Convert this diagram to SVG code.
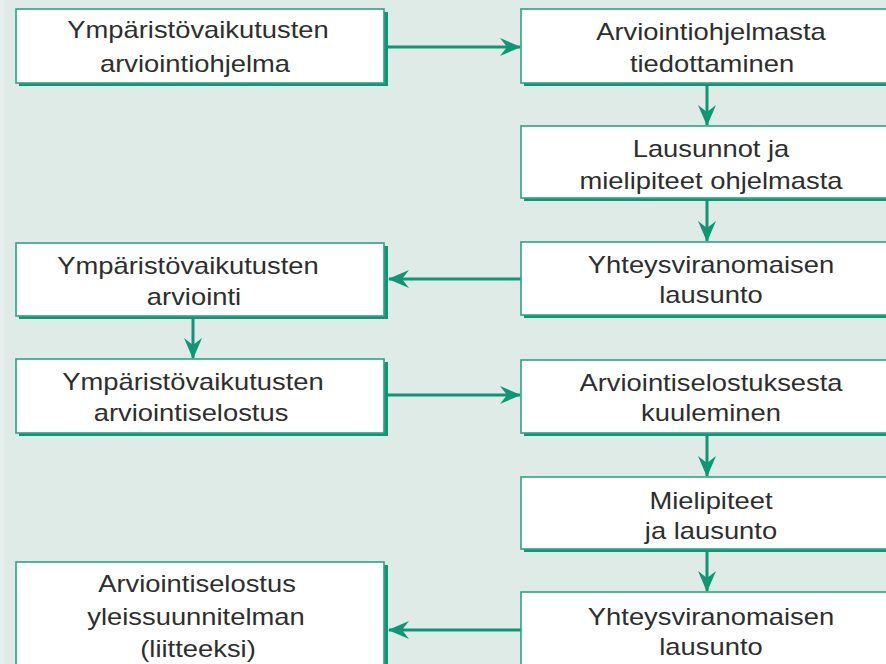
<svg xmlns="http://www.w3.org/2000/svg" width="886" height="664" viewBox="0 0 886 664">
<style>
.sh{fill:#0f9674}
.bx{fill:#ffffff;stroke:#2aa585;stroke-width:1.6}
.t{font-family:"Liberation Sans",Arial,sans-serif;font-size:23px;fill:#2e2e2e;text-anchor:middle}
.c{stroke:#0f9674;stroke-width:3;fill:none}
</style>
<defs>
<marker id="ah" markerUnits="userSpaceOnUse" markerWidth="22" markerHeight="20" refX="20" refY="10" orient="auto">
<path d="M0,1 L21,10 L0,19 L7,10 Z" fill="#0f9674"/>
</marker>
</defs>
<rect x="0" y="0" width="886" height="664" fill="#deebe7"/>
<rect x="0" y="0" width="4" height="664" fill="#e7f0ee"/>

<g id="connectors">
<line class="c" x1="388" y1="47" x2="520" y2="47" marker-end="url(#ah)"/>
<line class="c" x1="707" y1="86" x2="707" y2="125" marker-end="url(#ah)"/>
<line class="c" x1="707" y1="201" x2="707" y2="241" marker-end="url(#ah)"/>
<line class="c" x1="522" y1="279" x2="389" y2="279" marker-end="url(#ah)"/>
<line class="c" x1="193" y1="319" x2="193" y2="358" marker-end="url(#ah)"/>
<line class="c" x1="388" y1="395" x2="520" y2="395" marker-end="url(#ah)"/>
<line class="c" x1="707" y1="436" x2="707" y2="476" marker-end="url(#ah)"/>
<line class="c" x1="707" y1="551" x2="707" y2="591" marker-end="url(#ah)"/>
<line class="c" x1="522" y1="630" x2="389" y2="630" marker-end="url(#ah)"/>
</g>

<g id="L1">
<rect class="sh" x="19" y="12" width="369" height="74"/>
<rect class="bx" x="16" y="9" width="368" height="74"/>
<text class="t" transform="translate(198,38) scale(1.19,1)">Ympäristövaikutusten</text>
<text class="t" transform="translate(195,72) scale(1.19,1)">arviointiohjelma</text>
</g>

<g id="R1">
<rect class="sh" x="524" y="12" width="380" height="74"/>
<rect class="bx" x="521" y="9" width="380" height="74"/>
<text class="t" transform="translate(711,40) scale(1.19,1)">Arviointiohjelmasta</text>
<text class="t" transform="translate(712,72) scale(1.19,1)">tiedottaminen</text>
</g>

<g id="R2">
<rect class="sh" x="524" y="129" width="380" height="72"/>
<rect class="bx" x="521" y="126" width="380" height="72"/>
<text class="t" transform="translate(711,157) scale(1.19,1)">Lausunnot ja</text>
<text class="t" transform="translate(711,189) scale(1.19,1)">mielipiteet ohjelmasta</text>
</g>

<g id="R3">
<rect class="sh" x="524" y="245" width="380" height="73"/>
<rect class="bx" x="521" y="242" width="380" height="73"/>
<text class="t" transform="translate(711,273) scale(1.19,1)">Yhteysviranomaisen</text>
<text class="t" transform="translate(711,303) scale(1.19,1)">lausunto</text>
</g>

<g id="L2">
<rect class="sh" x="19" y="246" width="369" height="73"/>
<rect class="bx" x="16" y="243" width="368" height="73"/>
<text class="t" transform="translate(188,274) scale(1.19,1)">Ympäristövaikutusten</text>
<text class="t" transform="translate(194,305) scale(1.19,1)">arviointi</text>
</g>

<g id="L3">
<rect class="sh" x="19" y="362" width="369" height="74"/>
<rect class="bx" x="16" y="359" width="368" height="74"/>
<text class="t" transform="translate(193,390) scale(1.19,1)">Ympäristövaikutusten</text>
<text class="t" transform="translate(191,421) scale(1.19,1)">arviointiselostus</text>
</g>

<g id="R4">
<rect class="sh" x="524" y="363" width="380" height="73"/>
<rect class="bx" x="521" y="360" width="380" height="73"/>
<text class="t" transform="translate(711,391) scale(1.19,1)">Arviointiselostuksesta</text>
<text class="t" transform="translate(711,421) scale(1.19,1)">kuuleminen</text>
</g>

<g id="R5">
<rect class="sh" x="524" y="480" width="380" height="72"/>
<rect class="bx" x="521" y="477" width="380" height="72"/>
<text class="t" transform="translate(711,509) scale(1.19,1)">Mielipiteet</text>
<text class="t" transform="translate(711,539) scale(1.19,1)">ja lausunto</text>
</g>

<g id="R6">
<rect class="sh" x="524" y="595" width="380" height="110"/>
<rect class="bx" x="521" y="592" width="380" height="110"/>
<text class="t" transform="translate(711,625) scale(1.19,1)">Yhteysviranomaisen</text>
<text class="t" transform="translate(711,655) scale(1.19,1)">lausunto</text>
</g>

<g id="L4">
<rect class="sh" x="19" y="565" width="369" height="140"/>
<rect class="bx" x="16" y="562" width="368" height="140"/>
<text class="t" transform="translate(197,592) scale(1.19,1)">Arviointiselostus</text>
<text class="t" transform="translate(196,625) scale(1.19,1)">yleissuunnitelman</text>
<text class="t" transform="translate(198,657) scale(1.19,1)">(liitteeksi)</text>
</g>
</svg>
